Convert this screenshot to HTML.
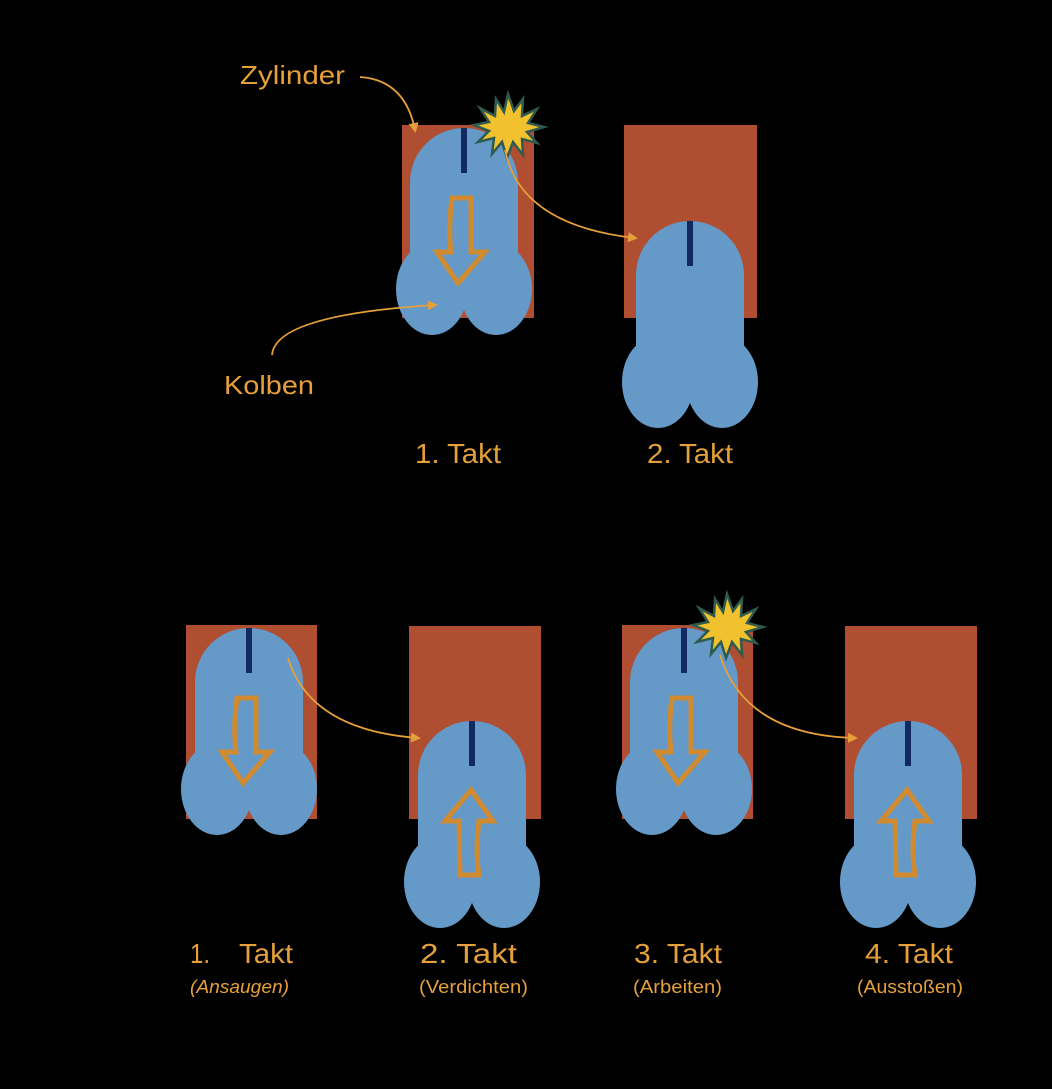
<!DOCTYPE html>
<html><head><meta charset="utf-8"><style>
html,body{margin:0;padding:0;background:#000;}
svg{display:block}
text{font-family:"Liberation Sans",sans-serif;fill:#E6A03A;}
</style></head><body>
<svg width="1052" height="1089" viewBox="0 0 1052 1089" xmlns="http://www.w3.org/2000/svg">
<defs>
<g id="piston">
  <path d="M-54,54 A54,54 0 0 1 54,54 L54,150 L-54,150 Z" fill="#6499C8"/>
  <ellipse cx="-32" cy="161" rx="36" ry="46" fill="#6499C8"/>
  <ellipse cx="32" cy="161" rx="36" ry="46" fill="#6499C8"/>
  <rect x="-3" y="0" width="6" height="45" fill="#10295E"/>
</g>
<g id="down">
  <path d="M-12,70 L7,70 L7,124 L21,124 L-6,155 L-27,124 L-13,124 Q-16,100 -12,70 Z" fill="none" stroke="#D08B30" stroke-width="5" stroke-linejoin="miter"/>
</g>
<g id="up">
  <path d="M-12,154 L7,154 Q3,130 7,100 L21,100 L-1,69 L-27,100 L-13,100 L-12,154 Z" fill="none" stroke="#D08B30" stroke-width="5"/>
</g>
<marker id="ah" markerWidth="10" markerHeight="10" refX="7" refY="5" orient="auto" markerUnits="userSpaceOnUse">
  <path d="M0,0 L10,5 L0,10 Z" fill="#E6A03A"/>
</marker>
<polygon id="star" points="0,-34 6,-17 15,-29 14,-12 29,-19 20,-5 36,-1 19,4 29,15 14,11 15,27 5,14 -1,30 -6,14 -16,26 -14,10 -30,14 -19,3 -34,-3 -19,-6 -28,-20 -13,-12 -12,-29 -4,-16" fill="#F2C12E" stroke="#2E5B4E" stroke-width="2.5" stroke-linejoin="miter"/>
</defs>

<!-- top row -->
<rect x="402" y="125" width="132" height="193" fill="#B04E32"/>
<use href="#piston" x="464" y="128"/>
<use href="#down" x="464" y="128"/>
<use href="#star" x="508" y="128"/>
<rect x="624" y="125" width="133" height="193" fill="#B04E32"/>
<use href="#piston" x="690" y="221"/>

<text x="240" y="84" font-size="26" textLength="105" lengthAdjust="spacingAndGlyphs">Zylinder</text>
<path d="M360,77 Q405,80 415,130" fill="none" stroke="#E6A03A" stroke-width="1.8" marker-end="url(#ah)"/>
<text x="224" y="394" font-size="26" textLength="90" lengthAdjust="spacingAndGlyphs">Kolben</text>
<path d="M272,355 Q275,315 435,305" fill="none" stroke="#E6A03A" stroke-width="1.8" marker-end="url(#ah)"/>
<path d="M505,150 Q520,225 635,238" fill="none" stroke="#E6A03A" stroke-width="1.8" marker-end="url(#ah)"/>

<text x="415" y="463" font-size="28" textLength="86" lengthAdjust="spacingAndGlyphs">1. Takt</text>
<text x="647" y="463" font-size="28" textLength="86" lengthAdjust="spacingAndGlyphs">2. Takt</text>

<!-- bottom row -->
<rect x="186" y="625" width="131" height="194" fill="#B04E32"/>
<use href="#piston" x="249" y="628"/>
<use href="#down" x="249" y="628"/>

<rect x="409" y="626" width="132" height="193" fill="#B04E32"/>
<use href="#piston" x="472" y="721"/>
<use href="#up" x="472" y="721"/>

<rect x="622" y="625" width="131" height="194" fill="#B04E32"/>
<use href="#piston" x="684" y="628"/>
<use href="#down" x="684" y="628"/>
<use href="#star" x="727" y="628"/>

<rect x="845" y="626" width="132" height="193" fill="#B04E32"/>
<use href="#piston" x="908" y="721"/>
<use href="#up" x="908" y="721"/>

<path d="M288,658 Q310,730 418,738" fill="none" stroke="#E6A03A" stroke-width="1.8" marker-end="url(#ah)"/>
<path d="M720,655 Q745,735 855,738" fill="none" stroke="#E6A03A" stroke-width="1.8" marker-end="url(#ah)"/>

<text x="190" y="963" font-size="28" textLength="20" lengthAdjust="spacingAndGlyphs">1.</text>
<text x="239" y="963" font-size="28" textLength="54" lengthAdjust="spacingAndGlyphs">Takt</text>
<text x="420" y="963" font-size="28" textLength="97" lengthAdjust="spacingAndGlyphs">2. Takt</text>
<text x="634" y="963" font-size="28" textLength="88" lengthAdjust="spacingAndGlyphs">3. Takt</text>
<text x="865" y="963" font-size="28" textLength="88" lengthAdjust="spacingAndGlyphs">4. Takt</text>
<text x="190" y="993" font-size="18" font-style="italic" textLength="99" lengthAdjust="spacingAndGlyphs">(Ansaugen)</text>
<text x="419" y="993" font-size="18" textLength="109" lengthAdjust="spacingAndGlyphs">(Verdichten)</text>
<text x="633" y="993" font-size="18" textLength="89" lengthAdjust="spacingAndGlyphs">(Arbeiten)</text>
<text x="857" y="993" font-size="18" textLength="106" lengthAdjust="spacingAndGlyphs">(Ausstoßen)</text>
</svg>
</body></html>
